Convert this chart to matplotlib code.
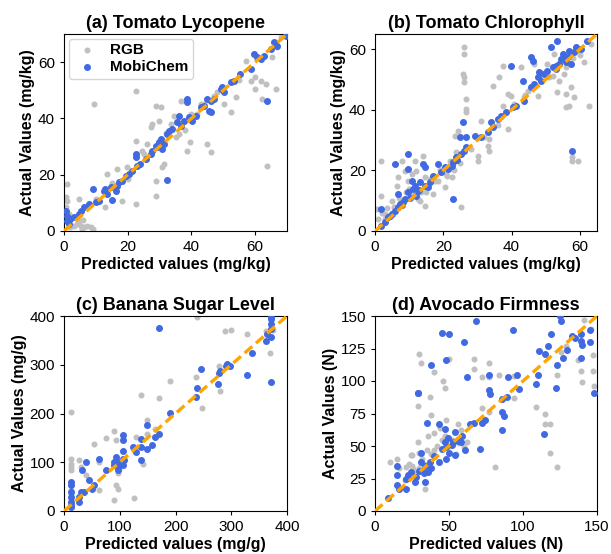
import matplotlib.pyplot as plt

plt.rcParams['font.family'] = ['Liberation Sans', 'DejaVu Sans']

# (a) Tomato Lycopene
a_rgb_x = [0.5, 1, 1, 0.5, 1.6, 2, 3.1, 4.2, 4.7, 5.2, 5.8, 6.3, 7.3, 8.4, 9.2, 4.7, 9.4, 13, 13.6, 16.7,
           18.3, 19.9, 22.5, 22.5, 22.5, 24.6, 26.1, 27.2, 27.7, 28.8, 29, 29, 30.3, 29.8, 30.9, 31.4, 33.5,
           34.5, 36.1, 36.6, 38.7, 39.7, 41.8, 45, 46, 47.1, 50.2, 52.3, 53.9, 57, 58.6, 60.1, 60.1, 61.7,
           62.2, 63.3, 63.8, 65.4, 66.4, 66.9, 68, 10, 20, 25, 35, 40, 44, 55, 3, 6, 15, 32, 38, 43, 48]
a_rgb_y = [12, 10.8, 16.7, 8.4, 6, 1.3, 1.9, 2.5, 3.7, 1.9, 0.7, 1.5, 1.9, 1.5, 0.7, 11.4, 45.1, 8.4, 20.3, 22,
           10.8, 22.6, 9.6, 32.1, 49.9, 28.6, 30.9, 36.8, 38, 44.5, 12.6, 17.9, 43.9, 39.2, 22.6, 23.8, 38,
           41, 34.5, 46.3, 28.6, 31.5, 41.6, 30.9, 28, 48.1, 45.1, 42.2, 47.5, 60.5, 53.4, 54.6, 50.5, 53.4,
           46.9, 52.1, 23.2, 61.7, 50.5, 65.3, 68.8, 11.5, 18.5, 27.5, 33.5, 41.5, 45, 53.5, 5, 4, 17, 35, 36, 45, 49.5]
a_mobi_x = [0.5, 0.8, 1, 1.6, 2, 3.1, 4.7, 5.2, 6.3, 7.8, 9.2, 9.9, 11, 12.5, 13, 13.6, 14.6, 15.2, 16.2, 16.7,
            17.3, 18.3, 19.4, 20.4, 21.4, 22.5, 22.5, 23, 24, 25.6, 27.2, 27.7, 28.8, 29.3, 29.8, 30.3, 30.9,
            31.4, 32.4, 32.4, 33, 34, 35.6, 36.1, 36.6, 37.7, 38.7, 38.7, 39.2, 40.3, 41.3, 42.9, 43.9, 45,
            45.5, 46, 46, 47.1, 49.2, 49.7, 50.2, 52.3, 53.3, 55.4, 58.6, 59.6, 60.7, 61.7, 62.8, 63.8, 64.9,
            65.9, 66.9, 69.6]
a_mobi_y = [7.2, 5.5, 3.7, 2.5, 4.3, 4.9, 6, 7.2, 8.4, 9.6, 14.8, 10.2, 10.8, 14.3, 15, 13.2, 15.6, 11.1, 14.3, 16.1,
            17.3, 17.9, 19.7, 20.3, 21.4, 26.2, 27.4, 23.2, 23.8, 25.6, 27.4, 28.6, 30.3, 29.7, 31.5, 32.7, 29.1,
            30.9, 34.5, 18.1, 35.7, 36.3, 38.7, 41, 37.3, 39.2, 46.9, 45.7, 40.4, 39.2, 41, 44, 44.5, 46.9,
            42.7, 42.2, 46.3, 46.9, 50.5, 51.1, 49.3, 52.8, 53.4, 55.8, 57.6, 62.9, 61.7, 61.1, 62.3, 46.3, 64.7,
            67.1, 65.9, 69.4]

# (b) Tomato Chlorophyll
b_rgb_x = [0.5, 1.9, 1.9, 2.9, 4.9, 6.3, 6.8, 7.8, 8.7, 9.7, 10.7, 11.7, 12.1, 13.1, 13.6, 14.1, 14.6, 14.6,
           17, 18.5, 20.4, 20.9, 22.4, 23.3, 23.8, 24.3, 25.3, 25.8, 26.2, 26.2, 26.2, 26.2, 26.7, 26.7, 26.7,
           30.1, 30.1, 31.1, 33, 33.5, 33.5, 34.5, 36.4, 37.4, 37.4, 38.9, 38.9, 39.8, 40.8, 42.8, 43.7, 44.7,
           46.6, 47.6, 50.5, 51, 52.5, 53.4, 53.9, 55.4, 55.9, 55.9, 56.9, 57.3, 57.8, 57.8, 58.3, 59.3, 59.8,
           61.2, 62.7, 63.2, 3, 5, 8, 11, 16, 19, 22, 24, 28, 32, 36, 44, 49, 52, 54, 56, 58, 60,
           1, 2, 3.5, 5.5, 7, 9, 10, 12.5, 15, 17.5, 21, 23, 25]
b_rgb_y = [7.3, 23.2, 11.7, 5.6, 10, 15, 17.7, 23.2, 19.9, 16.6, 18.8, 23.2, 19.9, 10, 12.8, 24.9, 8.4, 17.7,
           12.2, 16.6, 14.4, 18.8, 17.7, 31.5, 26, 33.1, 7.8, 51.8, 60.6, 58.4, 50.7, 49.1, 43.6, 40.3, 39.2,
           24.9, 23.2, 36.4, 28.2, 26.5, 30.4, 48, 50.7, 54.6, 41.4, 33.7, 45.2, 44.7, 41.9, 54, 44.1, 46.3,
           55.1, 44.7, 55.1, 50.7, 58.4, 45.8, 49.6, 51.8, 45.2, 40.8, 41.4, 47.4, 24.3, 23.2, 44.1, 23.2, 59.5,
           55.7, 41.4, 61.7, 4, 6, 9, 12, 17, 20, 23, 25, 27, 31, 35, 45, 52, 51, 55, 54, 57, 58,
           4, 6, 7.5, 8, 11, 13, 14, 10.5, 13, 16.5, 18, 20, 22.5]
b_mobi_x = [1.9, 1.9, 2.9, 3.9, 4.9, 5.8, 5.8, 6.8, 6.8, 7.3, 8.3, 8.7, 9.7, 9.7, 9.7, 10.7, 11.2, 11.7, 12.1,
            12.6, 13.1, 14.1, 14.6, 14.6, 15.5, 16, 17, 18.5, 19.4, 20.4, 21.4, 22.4, 22.8, 22.8, 23.8, 24.8,
            25.3, 25.8, 26.2, 26.7, 26.7, 29.2, 31.1, 33, 34, 34.5, 36, 36.9, 38.4, 39.8, 40.3, 41.3, 43.2,
            43.7, 45.7, 45.7, 46.2, 46.6, 47.6, 48.1, 48.6, 49.6, 50.5, 51.5, 52, 53, 53.4, 53.9, 54.4, 54.9,
            55.9, 56.4, 56.9, 57.3, 57.8, 58.3, 58.8, 60.3, 62.2, 4.5, 7.8, 10.2, 12.8, 24, 53, 55]
b_mobi_y = [7.3, 1.8, 2.9, 4.5, 5.6, 6.7, 22.1, 7.8, 12.2, 8.9, 9.5, 10.6, 25.3, 20.5, 12.8, 16.6, 13.9, 15, 11.7,
            13.3, 16.1, 22.1, 21, 15, 14.4, 16.1, 18.3, 22.1, 19.4, 21, 20.5, 21.6, 10.6, 22.7, 24.3, 30.9,
            25.4, 35.9, 26.5, 27.6, 30.9, 31.5, 30.9, 32.6, 35.9, 34.2, 37, 38.1, 39.2, 54.6, 40.8, 41.4, 49.6,
            43, 57.3, 47.4, 56.2, 48.5, 50.7, 52.4, 49.6, 51.8, 52.9, 60.6, 54, 54.6, 62.8, 55.1, 56.8, 58.4,
            55.7, 57.3, 59.5, 55.1, 26.5, 59, 60.6, 60.1, 62.8, 5, 8.5, 11, 13.5, 23.5, 53.5, 57]

# (c) Banana Sugar Level
c_rgb_x = [13, 13, 13, 13, 13, 13, 13, 13, 27, 30, 39, 54, 63, 63, 75, 90, 93, 90, 93, 96, 96, 99, 129, 126,
           138, 141, 149, 149, 164, 170, 191, 236, 239, 247, 278, 280, 289, 299, 328, 362, 370, 374]
c_rgb_y = [203, 90, 84, 97, 107, 56, 43, 26, 104, 90, 73, 138, 101, 43, 150, 165, 145, 22, 53, 46, 77, 87, 152,
           26, 237, 97, 186, 158, 169, 231, 267, 274, 397, 211, 298, 247, 369, 371, 363, 369, 325, 371]
c_mobi_x = [12, 12, 12, 12, 12, 12, 12, 27, 27, 30, 33, 36, 39, 45, 51, 54, 63, 75, 90, 90, 93, 96, 96, 99, 102,
            105, 105, 105, 105, 105, 108, 123, 129, 138, 138, 138, 149, 149, 158, 164, 170, 170, 191, 236, 238,
            245, 276, 278, 280, 290, 293, 298, 328, 338, 362, 365, 371, 371, 371, 371, 371, 371]
c_mobi_y = [12, 19, 29, 39, 53, 60, 9, 19, 29, 39, 84, 39, 101, 63, 46, 53, 107, 84, 101, 94, 111, 84, 90, 101,
            97, 107, 145, 156, 124, 94, 104, 131, 121, 104, 131, 148, 128, 176, 135, 152, 376, 158, 201, 233, 252,
            291, 261, 284, 288, 298, 301, 298, 279, 325, 349, 363, 356, 264, 383, 393, 373, 397]

# (d) Avocado Firmness
d_rgb_x = [10, 15, 16, 21, 24, 25, 29, 30, 31, 29, 34, 37, 38, 40, 46, 47, 50, 56, 58, 67, 67, 72, 72, 77, 77,
           77, 81, 84, 94, 94, 109, 115, 115, 118, 118, 123, 126, 129, 137, 139, 140, 147, 147, 141, 146, 148,
           123, 25, 27, 30, 32, 35, 38, 40, 42, 45, 47, 50, 52, 55, 57, 60, 62, 36, 40, 44, 48, 26, 23, 20, 30, 33]
d_rgb_y = [38, 40, 33, 34, 43, 43, 53, 121, 114, 81, 17, 88, 74, 107, 100, 95, 117, 67, 62, 117, 109, 103, 79,
           114, 103, 76, 34, 105, 104, 87, 80, 75, 67, 67, 45, 34, 122, 127, 116, 108, 99, 108, 120, 147, 140, 96,
           105, 35, 30, 45, 40, 47, 44, 47, 50, 55, 58, 50, 55, 44, 52, 49, 53, 58, 60, 64, 70, 32, 36, 24, 33, 36]
d_mobi_x = [9, 15, 15, 15, 16, 21, 21, 22, 24, 27, 28, 29, 30, 31, 31, 33, 34, 34, 35, 36, 37, 38, 40, 43, 43,
            45, 45, 47, 47, 48, 48, 49, 50, 50, 52, 53, 54, 54, 56, 58, 59, 61, 62, 64, 67, 68, 71, 72, 74, 77,
            78, 77, 86, 87, 86, 86, 89, 90, 93, 96, 97, 109, 110, 111, 114, 115, 117, 119, 122, 123, 125, 126, 127,
            130, 133, 135, 139, 139, 139, 140, 145, 145, 148, 60, 48, 38, 29]
d_mobi_y = [10, 35, 28, 20, 17, 17, 25, 28, 30, 22, 26, 91, 31, 38, 45, 29, 35, 22, 68, 30, 38, 33, 42, 67, 38,
            48, 137, 63, 53, 49, 40, 56, 136, 45, 51, 53, 61, 43, 54, 53, 58, 47, 103, 67, 68, 146, 48, 68, 70, 93,
            90, 105, 76, 73, 62, 86, 88, 103, 139, 105, 94, 98, 105, 123, 59, 121, 127, 136, 95, 112, 150, 146, 118,
            124, 135, 133, 136, 131, 118, 128, 139, 130, 91, 130, 116, 112, 91]

panels = [
    ("(a) Tomato Lycopene", a_rgb_x, a_rgb_y, a_mobi_x, a_mobi_y, 70, 70, [0, 20, 40, 60], [0, 20, 40, 60],
     "Predicted values (mg/kg)", "Actual Values (mg/kg)"),
    ("(b) Tomato Chlorophyll", b_rgb_x, b_rgb_y, b_mobi_x, b_mobi_y, 65, 65, [0, 20, 40, 60], [0, 20, 40, 60],
     "Predicted values (mg/kg)", "Actual Values (mg/kg)"),
    ("(c) Banana Sugar Level", c_rgb_x, c_rgb_y, c_mobi_x, c_mobi_y, 400, 400, [0, 100, 200, 300, 400],
     [0, 100, 200, 300, 400], "Predicted values (mg/g)", "Actual Values (mg/g)"),
    ("(d) Avocado Firmness", d_rgb_x, d_rgb_y, d_mobi_x, d_mobi_y, 150, 150, [0, 50, 100, 150],
     [0, 25, 50, 75, 100, 125, 150], "Predicted values (N)", "Actual Values (N)"),
]

positions = [
    [64 / 611, 1 - 231 / 554, 223 / 611, 197 / 554],
    [375 / 611, 1 - 231 / 554, 222 / 611, 197 / 554],
    [64 / 611, 1 - 511 / 554, 223 / 611, 195 / 554],
    [375 / 611, 1 - 511 / 554, 222 / 611, 195 / 554],
]

fig = plt.figure(figsize=(6.11, 5.54), dpi=100)

for i, (title, rx, ry, mx, my, xmax, ymax, xt, yt, xl, yl) in enumerate(panels):
    ax = fig.add_axes(positions[i])
    ax.scatter(rx, ry, s=11, color='#c0c0c0', label='RGB', zorder=2)
    ax.scatter(mx, my, s=16, color='royalblue', label='MobiChem', zorder=3)
    ax.plot([0, xmax], [0, ymax], color='orange', linestyle='--', dashes=(3, 1.5), lw=2.4, zorder=4)
    ax.set_xlim(0, xmax)
    ax.set_ylim(0, ymax)
    ax.set_xticks(xt)
    ax.set_yticks(yt)
    ax.tick_params(labelsize=11, length=3)
    ax.set_title(title, fontsize=13, fontweight='bold', pad=4)
    ax.set_xlabel(xl, fontsize=11.5, fontweight='bold', labelpad=2)
    ax.set_ylabel(yl, fontsize=11.5, fontweight='bold', labelpad=2)
    if i == 0:
        ax.legend(loc='upper left', prop={'weight': 'bold', 'size': 11}, handletextpad=0.6,
                  borderaxespad=0.3, labelspacing=0.2, handlelength=1.8, borderpad=0.3)

fig.savefig('out.png', dpi=100)
